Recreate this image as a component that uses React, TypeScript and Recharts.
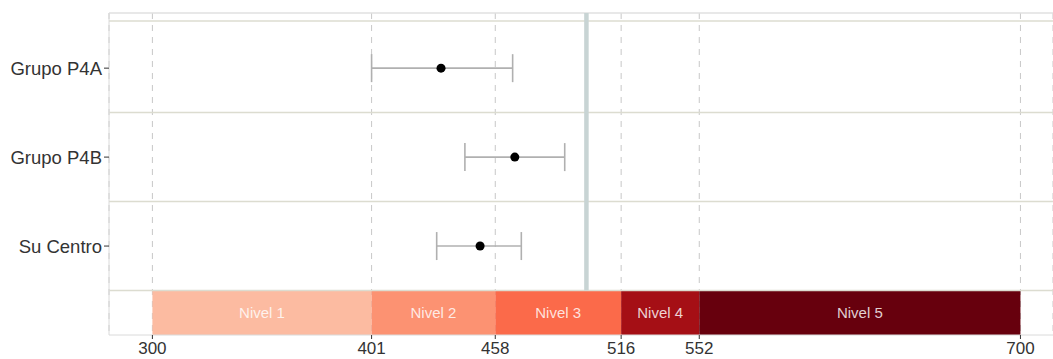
import React from 'react';
import {
    ScatterChart, Scatter, XAxis, YAxis, ZAxis, ErrorBar, CartesianGrid,
    ReferenceLine, ReferenceArea,
} from 'recharts';

const groups = ['Grupo P4A', 'Grupo P4B', 'Su Centro'];
const means = [433, 467, 451];
const lows = [401, 444, 431];
const highs = [466, 490, 470];

const levelNames = ['Nivel 1', 'Nivel 2', 'Nivel 3', 'Nivel 4', 'Nivel 5'];
const levelBreaks = [300, 401, 458, 516, 552, 700];
const levelColors = ['#fcbba1', '#fc9272', '#fb6a4a', '#a50f15', '#67000d'];

const referenceScore = 500;

const data = groups.map((name, i) => ({
    name,
    x: means[i],
    y: i + 1,
    err: [means[i] - lows[i], highs[i] - means[i]],
}));

const Y_TOP = 0.38;
const Y_BOTTOM = 4;
const BAND_TOP = 3.5;

export default function App() {
    return (
        <div style={{ position: 'fixed', left: 0, top: 0, width: 1053, height: 359, overflow: 'hidden', background: '#fff' }}>
            <ScatterChart width={1053} height={359} margin={{ top: 13, right: 0, bottom: 0, left: 0 }}>
                <CartesianGrid horizontal={false} stroke="#c8c8c8" strokeDasharray="6 6" />
                <XAxis
                    type="number"
                    dataKey="x"
                    domain={[280, 715]}
                    allowDataOverflow
                    ticks={levelBreaks}
                    interval={0}
                    height={24}
                    tickSize={4}
                    tickMargin={3}
                    axisLine={{ stroke: '#dadada' }}
                    tickLine={{ stroke: '#333' }}
                    tick={{ fill: '#333', fontSize: 17, fontFamily: 'Liberation Sans, Arial, sans-serif' }}
                />
                <YAxis
                    type="number"
                    dataKey="y"
                    reversed
                    domain={[Y_TOP, Y_BOTTOM]}
                    allowDataOverflow
                    ticks={[1, 2, 3]}
                    interval={0}
                    width={109}
                    tickSize={5}
                    tickMargin={2}
                    tickFormatter={(v: number) => groups[v - 1] ?? ''}
                    axisLine={{ stroke: '#dadada' }}
                    tickLine={{ stroke: '#333' }}
                    tick={{ fill: '#333', fontSize: 18.5, fontFamily: 'Liberation Sans, Arial, sans-serif' }}
                />
                <ZAxis range={[100, 100]} />
                {[Y_TOP, 0.47, 1.5, 2.5, BAND_TOP].map((v) => (
                    <ReferenceLine key={v} y={v} stroke={v === Y_TOP ? '#e0e0e0' : '#dcdcd0'} strokeWidth={1.5} />
                ))}
                <ReferenceLine
                    segment={[{ x: referenceScore, y: Y_TOP }, { x: referenceScore, y: BAND_TOP }]}
                    stroke="#c8d4d4"
                    strokeWidth={4.5}
                />
                {levelNames.map((name, i) => (
                    <ReferenceArea
                        key={name}
                        x1={levelBreaks[i]}
                        x2={levelBreaks[i + 1]}
                        y1={BAND_TOP}
                        y2={Y_BOTTOM}
                        fill={levelColors[i]}
                        fillOpacity={1}
                        stroke="none"
                        label={{
                            value: name,
                            position: 'center',
                            fill: '#ffffff',
                            fillOpacity: 0.82,
                            fontSize: 15,
                            fontFamily: 'Liberation Sans, Arial, sans-serif',
                        }}
                    />
                ))}
                <Scatter data={data} fill="#000" isAnimationActive={false}>
                    <ErrorBar dataKey="err" direction="x" width={14} stroke="#b0b0b0" strokeWidth={1.6} />
                </Scatter>
            </ScatterChart>
        </div>
    );
}
